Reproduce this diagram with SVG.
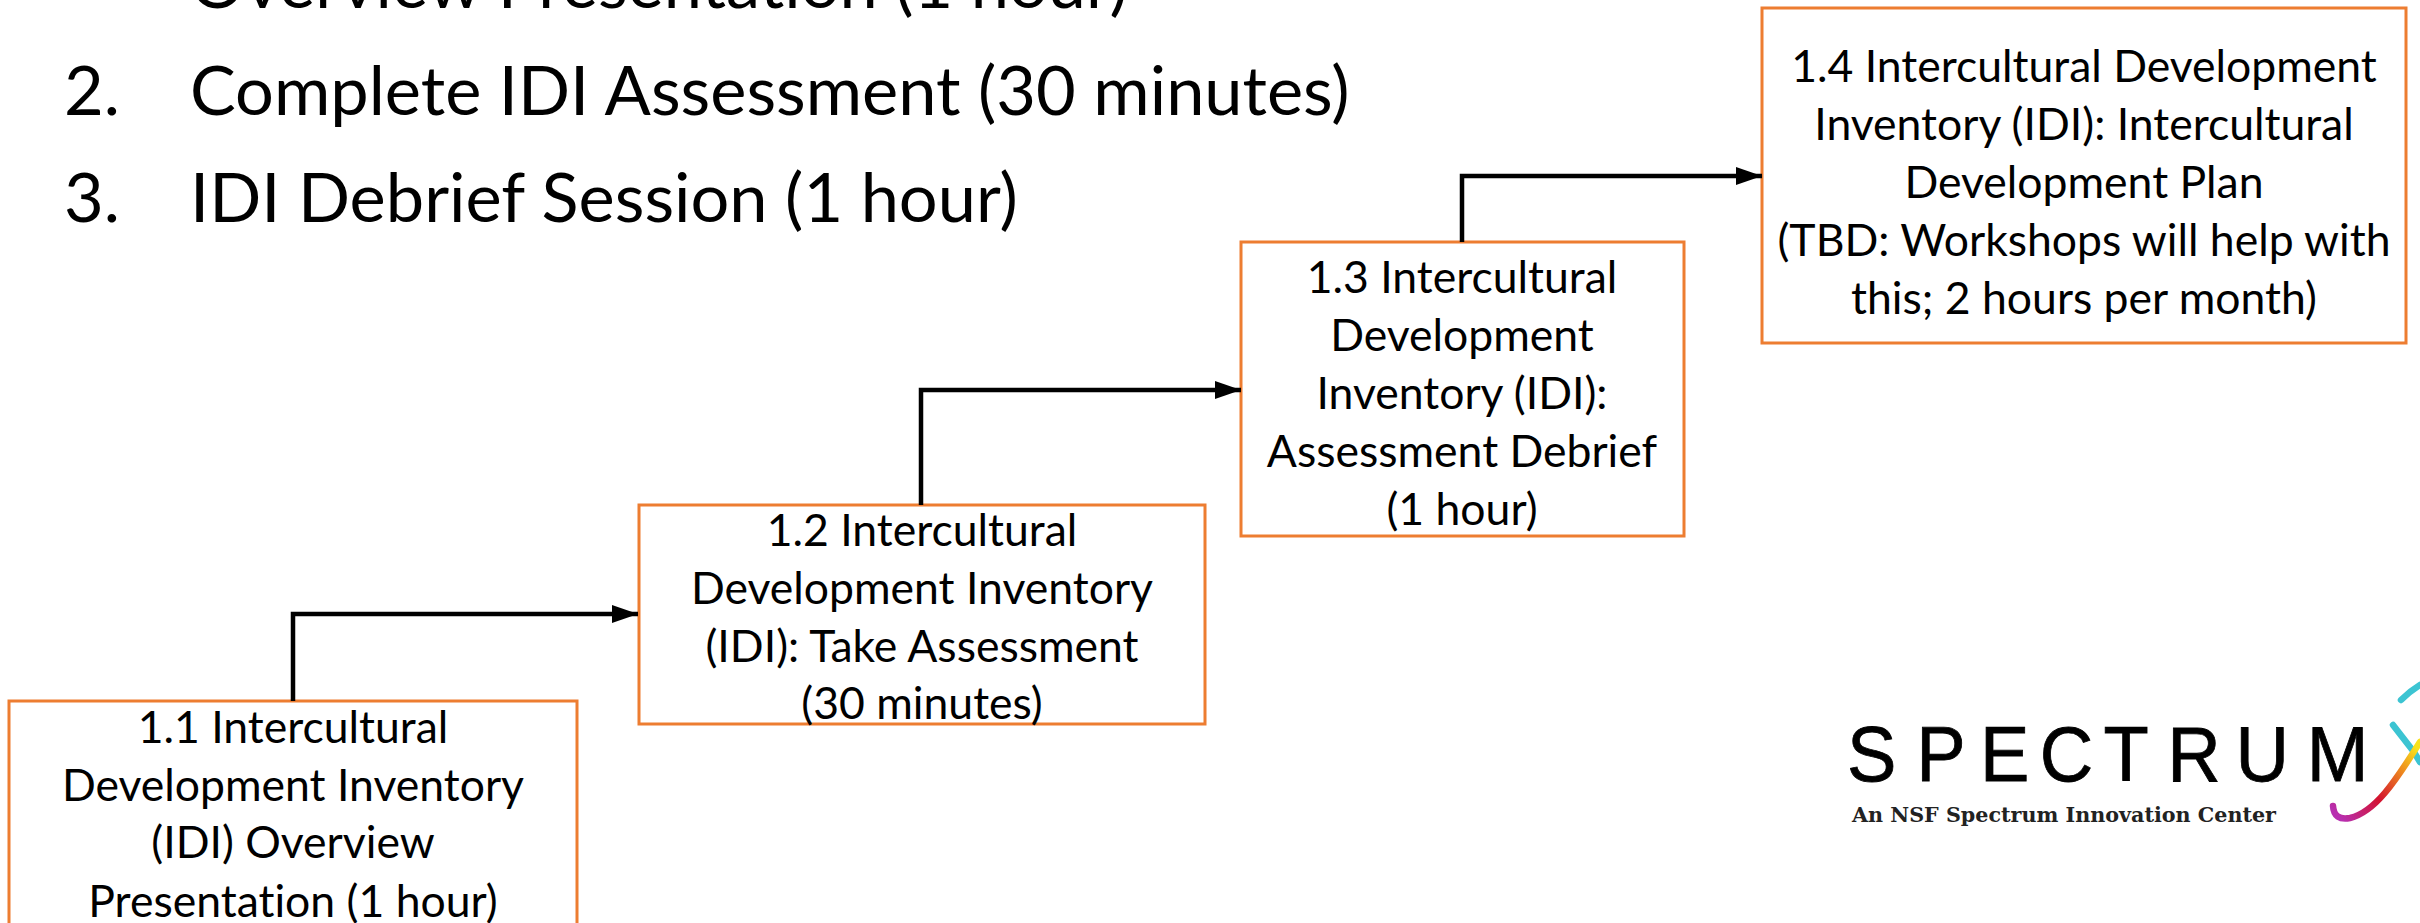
<svg xmlns="http://www.w3.org/2000/svg" width="2420" height="923" viewBox="0 0 2420 923">
<style>
text{font-family:Lato,"Liberation Sans",sans-serif;fill:#000;font-variant-ligatures:none}
.n text{font-size:44.5px;text-anchor:middle}
.n rect{fill:#fff;stroke:#ed7d31;stroke-width:3}
.big{font-size:68.5px}
.c path{fill:none;stroke:#000;stroke-width:4.5;marker-end:url(#a)}
.s{fill:none;stroke-width:6.5;stroke-linecap:round}
</style>
<defs>
<marker id="a" markerUnits="userSpaceOnUse" markerWidth="26" markerHeight="18" refX="26" refY="9" orient="auto"><path d="M0 0L26 9L0 18Z" fill="#000"/></marker>
<linearGradient id="g" gradientUnits="userSpaceOnUse" x1="2340" y1="818" x2="2416" y2="748">
<stop offset="0" stop-color="#b82fb0"/><stop offset=".4" stop-color="#d3122f"/><stop offset=".75" stop-color="#ee8a1e"/><stop offset="1" stop-color="#f8e21c"/></linearGradient>
</defs>
<g id="list">
<text class="big" x="190" y="8">Overview Presentation (1 hour)</text>
<text class="big" x="64" y="115">2.</text><text class="big" x="190" y="115">Complete IDI Assessment (30 minutes)</text>
<text class="big" x="64" y="222">3.</text><text class="big" x="190" y="222">IDI Debrief Session (1 hour)</text>
</g>
<g id="n1" class="n"><rect x="9" y="701" width="568" height="240"/>
<text x="293" y="743">1.1 Intercultural</text><text x="293" y="801">Development Inventory</text><text x="293" y="858">(IDI) Overview</text><text x="293" y="917">Presentation (1 hour)</text></g>
<g id="n2" class="n"><rect x="639" y="505" width="566" height="219"/>
<text x="922" y="546">1.2 Intercultural</text><text x="922" y="604">Development Inventory</text><text x="922" y="662">(IDI): Take Assessment</text><text x="922" y="719">(30 minutes)</text></g>
<g id="n3" class="n"><rect x="1241" y="242" width="443" height="294"/>
<text x="1462" y="293">1.3 Intercultural</text><text x="1462" y="351">Development</text><text x="1462" y="409">Inventory (IDI):</text><text x="1462" y="467">Assessment Debrief</text><text x="1462" y="525">(1 hour)</text></g>
<g id="n4" class="n"><rect x="1762" y="8" width="644" height="335"/>
<text x="2084" y="82">1.4 Intercultural Development</text><text x="2084" y="140">Inventory (IDI): Intercultural</text><text x="2084" y="198">Development Plan</text><text x="2084" y="256">(TBD: Workshops will help with</text><text x="2084" y="314">this; 2 hours per month)</text></g>
<g id="connectors" class="c">
<path d="M293 701V614H638"/>
<path d="M921 505V390H1241"/>
<path d="M1462 242V176H1762"/>
</g>
<g id="logo">
<text transform="translate(1847 781) scale(.95 1)" x="0 73 140 203 270 337 409 484" y="0" style="font-family:'Liberation Sans',sans-serif;font-size:78px;stroke:#000;stroke-width:.8">SPECTRUM</text>
<text x="1852" y="822" style="font-family:'DejaVu Serif',serif;font-weight:bold;font-size:21px;fill:#222" textLength="424" lengthAdjust="spacingAndGlyphs">An NSF Spectrum Innovation Center</text>
<path class="s" d="M2401 700Q2410 691 2420 685" stroke="#3cc4d2"/>
<path class="s" d="M2393 725L2414 752L2420 762" stroke="#3cc4d2"/>
<path class="s" d="M2333 806Q2334 821 2350 818C2375 812 2395 782 2420 742" stroke="url(#g)"/>
</g>
</svg>
